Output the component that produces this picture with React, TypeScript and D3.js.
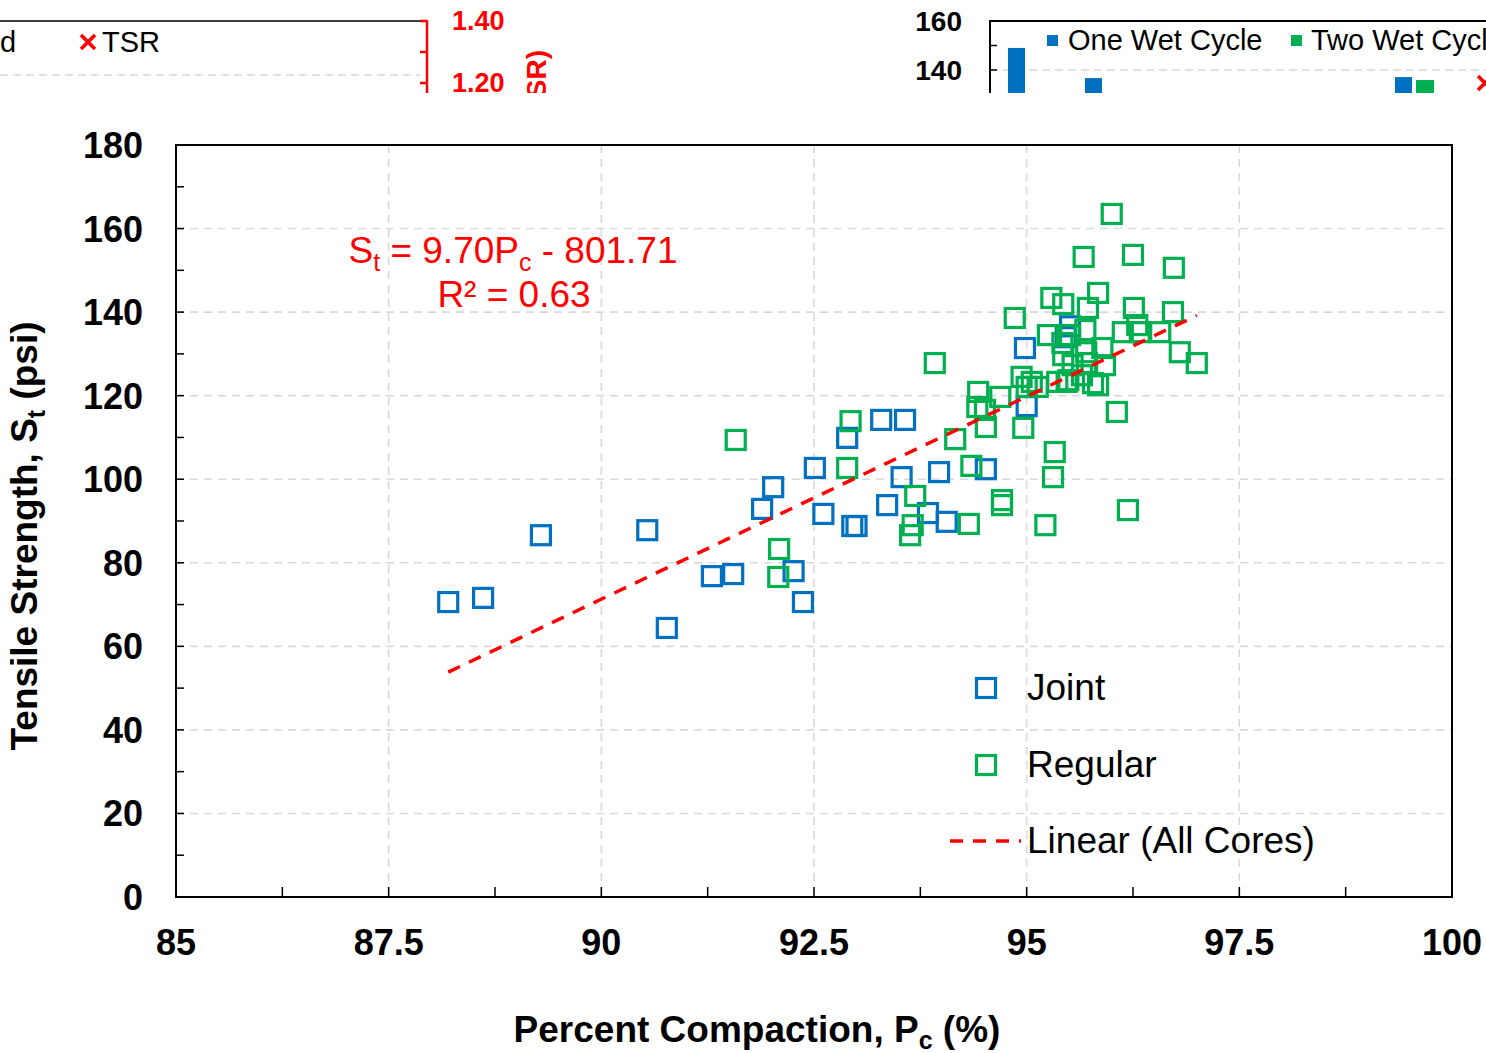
import React from "react";
import * as d3 from "d3";

// ---- Main chart data: percent compaction (%) vs. tensile strength (psi) ----
const jointPc = [
  88.2, 88.61, 89.29, 90.54, 90.77, 91.3, 91.55, 91.89, 92.02, 92.26, 92.37,
  92.51, 92.61, 92.89, 92.95, 93.0, 93.29, 93.57, 93.36, 93.53, 93.84, 93.97,
  94.06, 94.52, 94.98, 95.0, 95.51, 95.46,
];
const jointSt = [
  70.6, 71.6, 86.6, 87.8, 64.4, 76.8, 77.3, 92.9, 98.1, 78.0, 70.6,
  102.7, 91.7, 109.9, 88.8, 88.8, 114.2, 114.2, 93.8, 100.5, 91.9, 101.7,
  89.8, 102.4, 131.4, 117.5, 136.6, 134.0,
];

const regularPc = [
  91.58, 92.09, 92.08, 92.93, 92.89, 93.69, 93.66, 93.63, 93.92, 94.16, 94.32,
  94.35, 94.43, 94.42, 94.51, 94.52, 94.69, 94.71, 94.71, 94.86, 94.94, 95.0,
  94.96, 95.13, 95.22, 95.25, 95.29, 95.31, 95.33, 95.43, 95.42, 95.43, 95.36,
  95.49, 95.54, 95.67, 95.69, 95.72, 95.7, 95.71, 95.78, 95.84, 95.84, 95.89,
  95.92, 96.0, 96.06, 96.13, 96.26, 96.3, 96.33, 96.19, 96.25, 96.57, 96.72,
  96.73, 96.8, 97.0, 95.51, 95.06, 95.65, 95.47,
];
const regularSt = [
  109.4, 83.3, 76.6, 113.9, 102.7, 96.0, 89.0, 86.6, 127.8, 109.6, 89.3,
  103.2, 120.9, 117.3, 116.6, 112.5, 119.7, 95.0, 93.8, 138.6, 124.5, 122.1,
  112.3, 122.1, 89.0, 134.5, 143.4, 100.5, 106.5, 141.9, 132.6, 129.7, 123.3,
  123.7, 127.3, 153.2, 135.7, 141.0, 130.4, 127.8, 123.0, 122.5, 144.6, 131.4,
  127.3, 163.5, 116.1, 135.2, 141.0, 136.9, 135.2, 92.6, 153.7, 135.2, 140.0,
  150.6, 130.4, 127.8, 134.5, 123.3, 124.9, 123.3,
];

// Linear fit over all cores: St = 9.70 Pc - 801.71
const fitSlope = 9.7;
const fitIntercept = -801.71;
const fitRange = [88.2, 97.0];

const xTicks = [85, 87.5, 90, 92.5, 95, 97.5, 100];
const xTickLabels = ["85", "87.5", "90", "92.5", "95", "97.5", "100"];
const yTicks = [0, 20, 40, 60, 80, 100, 120, 140, 160, 180];

// ---- Neighbouring panels (partly visible at the top) ----
const tsrTicks = [1.4, 1.3, 1.2];
const tsrTickLabels = ["1.40", "1.20"];
const tsrLabelValues = [1.4, 1.2];
const barTicks = [160, 150, 140, 130];
const barTickLabels = ["160", "140"];
const barLabelValues = [160, 140];
const oneWetX = [1008, 1085, 1395];
const oneWetVal = [149, 136.7, 137.1];
const twoWetX = [1416];
const twoWetVal = [135.9];

const BLUE = "#0070C0";
const GREEN = "#00B050";
const RED = "#FF0000";
const GRID = "#d9d9d9";
const FONT = "'Liberation Sans', Arial, sans-serif";

const W = 1486;
const H = 1053;
const plot = { left: 176, right: 1452, top: 145, bottom: 897 };

export default function App() {
  const x = d3.scaleLinear().domain([85, 100]).range([plot.left, plot.right]);
  const y = d3.scaleLinear().domain([0, 180]).range([plot.bottom, plot.top]);

  const minorX = d3.range(85, 100.001, 1.25);
  const minorY = d3.range(0, 180.001, 10);

  const fitLine = d3
    .line<number>()
    .x((d) => x(d))
    .y((d) => y(fitSlope * d + fitIntercept));

  const sq = 19;
  const square = (cx: number, cy: number, color: string, key: string) => (
    <rect
      key={key}
      x={cx - sq / 2}
      y={cy - sq / 2}
      width={sq}
      height={sq}
      fill="none"
      stroke={color}
      strokeWidth={3.2}
    />
  );

  // scales for the neighbouring panels
  const tsrY = d3.scaleLinear().domain([1.2, 1.4]).range([83, 21]);
  const barY = d3.scaleLinear().domain([140, 160]).range([70, 21]);

  return (
    <svg
      width={W}
      height={H}
      viewBox={`0 0 ${W} ${H}`}
      style={{ position: "absolute", left: 0, top: 0, background: "#fff" }}
      fontFamily={FONT}
    >
      <defs>
        <clipPath id="topStrip">
          <rect x={0} y={0} width={W} height={93} />
        </clipPath>
        <clipPath id="plotArea">
          <rect x={plot.left} y={plot.top} width={plot.right - plot.left} height={plot.bottom - plot.top} />
        </clipPath>
      </defs>
      <rect x={0} y={0} width={W} height={H} fill="#fff" />

      {/* ---------- neighbouring panels ---------- */}
      <g clipPath="url(#topStrip)">
        {/* TSR panel (left) */}
        <line x1={0} x2={425} y1={21} y2={21} stroke="#404040" strokeWidth={2} />
        <line x1={0} x2={420} y1={75} y2={75} stroke={GRID} strokeWidth={1.5} strokeDasharray="8,5" />
        <text x={0} y={52} fontSize={29} fill="#000">d</text>
        <g stroke={RED} strokeWidth={3.5}>
          <line x1={81} x2={95} y1={35} y2={49} />
          <line x1={81} x2={95} y1={49} y2={35} />
        </g>
        <text x={102} y={52} fontSize={29} fill="#000">TSR</text>
        <line x1={427} x2={427} y1={20} y2={93} stroke={RED} strokeWidth={2.5} />
        {tsrTicks.map((t) => (
          <line key={t} x1={420} x2={427} y1={tsrY(t)} y2={tsrY(t)} stroke={RED} strokeWidth={2.5} />
        ))}
        {tsrLabelValues.map((v, i) => (
          <text key={v} x={452} y={tsrY(v) + 9} fontSize={27} fontWeight="bold" fill={RED}>
            {tsrTickLabels[i]}
          </text>
        ))}
        <text
          transform="translate(546,50) rotate(-90)"
          textAnchor="end"
          fontSize={28}
          fontWeight="bold"
          fill={RED}
        >
          SR)
        </text>

        {/* wet-cycle bar panel (right) */}
        {barLabelValues.map((v, i) => (
          <text key={v} x={962} y={barY(v) + 10} textAnchor="end" fontSize={28} fontWeight="bold" fill="#000">
            {barTickLabels[i]}
          </text>
        ))}
        <line x1={990} x2={W} y1={70} y2={70} stroke={GRID} strokeWidth={1.5} strokeDasharray="8,5" />
        <line x1={990} x2={W} y1={21} y2={21} stroke="#000" strokeWidth={2} />
        <line x1={990} x2={990} y1={20} y2={93} stroke="#000" strokeWidth={2} />
        {barTicks.map((t) => (
          <line key={t} x1={990} x2={997} y1={barY(t)} y2={barY(t)} stroke="#000" strokeWidth={1.5} />
        ))}
        {oneWetX.map((bx, i) => (
          <rect key={"o" + i} x={bx} y={barY(oneWetVal[i])} width={17} height={93 - barY(oneWetVal[i])} fill={BLUE} />
        ))}
        {twoWetX.map((bx, i) => (
          <rect key={"t" + i} x={bx} y={barY(twoWetVal[i])} width={18} height={93 - barY(twoWetVal[i])} fill={GREEN} />
        ))}
        <g stroke={RED} strokeWidth={3.5}>
          <line x1={1478} x2={1492} y1={76} y2={90} />
          <line x1={1478} x2={1492} y1={90} y2={76} />
        </g>
        <rect x={1047} y={35} width={11} height={11} fill={BLUE} />
        <text x={1068} y={50} fontSize={29} fill="#000">One Wet Cycle</text>
        <rect x={1291} y={35} width={11} height={11} fill={GREEN} />
        <text x={1311} y={50} fontSize={29} fill="#000">Two Wet Cycle</text>
      </g>

      {/* ---------- main scatter chart ---------- */}
      {/* gridlines */}
      <g stroke={GRID} strokeWidth={1.6} strokeDasharray="8,6">
        {xTicks
          .filter((t) => t > 85 && t < 100)
          .map((t) => (
            <line key={"gx" + t} x1={x(t)} x2={x(t)} y1={plot.top} y2={plot.bottom} />
          ))}
        {yTicks
          .filter((t) => t > 0 && t < 180)
          .map((t) => (
            <line key={"gy" + t} x1={plot.left} x2={plot.right} y1={y(t)} y2={y(t)} />
          ))}
      </g>

      {/* inward tick marks */}
      <g stroke="#000" strokeWidth={1.5}>
        {minorX.map((t) => (
          <line key={"tx" + t} x1={x(t)} x2={x(t)} y1={plot.bottom} y2={plot.bottom - 10} />
        ))}
        {minorY.map((t) => (
          <line key={"ty" + t} x1={plot.left} x2={plot.left + 8} y1={y(t)} y2={y(t)} />
        ))}
      </g>

      {/* markers */}
      <g clipPath="url(#plotArea)">
        {jointPc.map((p, i) => square(x(p), y(jointSt[i]), BLUE, "j" + i))}
        {regularPc.map((p, i) => square(x(p), y(regularSt[i]), GREEN, "r" + i))}
        <path
          d={fitLine(fitRange) || ""}
          fill="none"
          stroke={RED}
          strokeWidth={3.5}
          strokeDasharray="13,10"
        />
      </g>

      {/* plot frame */}
      <rect
        x={plot.left}
        y={plot.top}
        width={plot.right - plot.left}
        height={plot.bottom - plot.top}
        fill="none"
        stroke="#000"
        strokeWidth={2}
      />

      {/* tick labels */}
      {xTicks.map((t, i) => (
        <text key={"lx" + t} x={x(t)} y={955} textAnchor="middle" fontSize={36} fontWeight="bold" fill="#000">
          {xTickLabels[i]}
        </text>
      ))}
      {yTicks.map((t) => (
        <text key={"ly" + t} x={143} y={y(t) + 13} textAnchor="end" fontSize={36} fontWeight="bold" fill="#000">
          {t}
        </text>
      ))}

      {/* axis titles */}
      <text x={757} y={1042} textAnchor="middle" fontSize={37} fontWeight="bold" fill="#000">
        <tspan>Percent Compaction, P</tspan>
        <tspan fontSize={25} dy={7}>c</tspan>
        <tspan dy={-7}> (%)</tspan>
      </text>
      <text
        transform="translate(37,536) rotate(-90)"
        textAnchor="middle"
        fontSize={37}
        fontWeight="bold"
        fill="#000"
      >
        <tspan>Tensile Strength, S</tspan>
        <tspan fontSize={25} dy={8}>t</tspan>
        <tspan dy={-8}> (psi)</tspan>
      </text>

      {/* regression equation */}
      <text x={513} y={263} textAnchor="middle" fontSize={37} fill={RED}>
        <tspan>S</tspan>
        <tspan fontSize={25} dy={8}>t</tspan>
        <tspan dy={-8}> = 9.70P</tspan>
        <tspan fontSize={25} dy={8}>c</tspan>
        <tspan dy={-8}> - 801.71</tspan>
      </text>
      <text x={514} y={307} textAnchor="middle" fontSize={37} fill={RED}>
        R² = 0.63
      </text>

      {/* legend */}
      {square(986, 688, BLUE, "legJ")}
      <text x={1027} y={700} fontSize={37} fill="#000">Joint</text>
      {square(986, 765, GREEN, "legR")}
      <text x={1027} y={777} fontSize={37} fill="#000">Regular</text>
      <line x1={950} x2={1021} y1={841} y2={841} stroke={RED} strokeWidth={3.5} strokeDasharray="13,10" />
      <text x={1027} y={853} fontSize={37} fill="#000">Linear (All Cores)</text>
    </svg>
  );
}
